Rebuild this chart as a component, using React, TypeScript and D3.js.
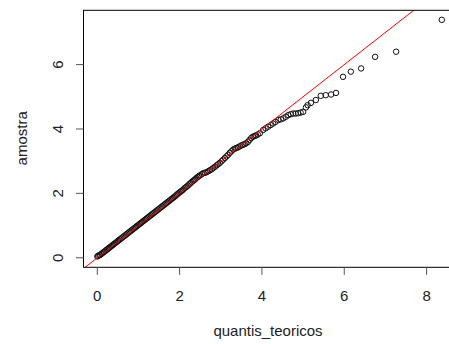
import React from 'react';
import * as d3 from 'd3';

// quantis teoricos (x) e amostra (y)
const teoricos = [
  0.00, 0.02, 0.05, 0.07, 0.10, 0.12, 0.15, 0.17, 0.20, 0.23, 0.25, 0.28, 0.30,
  0.33, 0.36, 0.38, 0.41, 0.44, 0.47, 0.50, 0.52, 0.55, 0.58, 0.61, 0.64, 0.67,
  0.70, 0.73, 0.76, 0.79, 0.82, 0.85, 0.88, 0.91, 0.94, 0.97, 1.00,
  1.03, 1.06, 1.09, 1.12, 1.15, 1.18, 1.21, 1.24, 1.27, 1.30, 1.33, 1.36, 1.39,
  1.42, 1.45, 1.48, 1.51, 1.54, 1.57, 1.60, 1.63, 1.66, 1.69, 1.72, 1.75, 1.78,
  1.81, 1.84, 1.87, 1.90, 1.93, 1.96, 1.99, 2.02, 2.05, 2.08, 2.11, 2.14, 2.17,
  2.20, 2.23, 2.26, 2.29, 2.32, 2.35, 2.38, 2.41, 2.44, 2.47, 2.50,
  2.54, 2.58, 2.62, 2.66, 2.70, 2.74, 2.78, 2.82, 2.86, 2.90, 2.94, 2.98, 3.02,
  3.06, 3.10, 3.14, 3.18, 3.22, 3.26, 3.30, 3.34, 3.38, 3.42, 3.46, 3.50,
  3.54, 3.58, 3.62, 3.66, 3.70, 3.74, 3.78, 3.82, 3.86, 3.90, 3.95,
  4.03, 4.09, 4.15, 4.21, 4.27, 4.33, 4.40, 4.46, 4.52, 4.58, 4.64, 4.70, 4.76,
  4.82, 4.88, 4.94, 5.00, 5.07, 5.11, 5.19, 5.31, 5.43, 5.55, 5.68, 5.80,
  5.97, 6.16, 6.41, 6.75, 7.26, 8.37
];

const amostra = [
  0.04, 0.06, 0.08, 0.09, 0.12, 0.14, 0.17, 0.19, 0.22, 0.25, 0.27, 0.30, 0.32,
  0.35, 0.38, 0.40, 0.43, 0.46, 0.49, 0.52, 0.54, 0.57, 0.60, 0.63, 0.66, 0.69,
  0.72, 0.75, 0.78, 0.81, 0.84, 0.87, 0.90, 0.93, 0.96, 0.99, 1.02,
  1.05, 1.08, 1.11, 1.14, 1.17, 1.20, 1.23, 1.26, 1.29, 1.32, 1.35, 1.38, 1.41,
  1.44, 1.47, 1.50, 1.53, 1.56, 1.59, 1.62, 1.65, 1.68, 1.71, 1.74, 1.77, 1.80,
  1.83, 1.86, 1.89, 1.92, 1.96, 1.99, 2.02, 2.05, 2.08, 2.11, 2.15, 2.18, 2.21,
  2.24, 2.28, 2.31, 2.35, 2.38, 2.41, 2.44, 2.48, 2.51, 2.54, 2.56,
  2.60, 2.63, 2.64, 2.66, 2.69, 2.72, 2.75, 2.79, 2.83, 2.87, 2.91, 2.95, 3.00,
  3.05, 3.10, 3.15, 3.20, 3.26, 3.31, 3.36, 3.39, 3.41, 3.43, 3.46, 3.49,
  3.51, 3.53, 3.56, 3.60, 3.66, 3.72, 3.76, 3.78, 3.80, 3.83, 3.87,
  3.97, 4.02, 4.07, 4.12, 4.17, 4.22, 4.28, 4.30, 4.33, 4.38, 4.43, 4.46, 4.48,
  4.48, 4.49, 4.51, 4.53, 4.67, 4.74, 4.81, 4.90, 5.03, 5.05, 5.07, 5.12,
  5.62, 5.78, 5.88, 6.24, 6.40, 7.39
];

const xTicks = [0, 2, 4, 6, 8];
const yTicks = [0, 2, 4, 6];

const W = 449, H = 344;
const left = 83.5, right = 455.6, top = 10.3, bottom = 267.3;
const font = 'Liberation Sans, Arial, sans-serif';

export default function App() {
  const x = d3.scaleLinear().domain([-0.335, 8.705]).range([left, right]);
  const y = d3.scaleLinear().domain([-0.296, 7.686]).range([bottom, top]);

  const pts = teoricos.map((t, i) => [t, amostra[i]]);
  const lineY = d3.line<number>().x(v => x(v)).y(v => y(v));

  return (
    <svg width={W} height={H} style={{ position: 'absolute', left: 0, top: 0, background: '#fff' }}>
      <defs>
        <clipPath id="plotArea">
          <rect x={left} y={top} width={right - left} height={bottom - top} />
        </clipPath>
      </defs>

      {/* pontos */}
      <g fill="none" stroke="#111" strokeWidth={1}>
        {pts.map((p, i) => (
          <circle key={i} cx={x(p[0])} cy={y(p[1])} r={2.75} />
        ))}
      </g>

      {/* abline(0, 1) */}
      <path d={lineY([-1, 10]) || ''} stroke="#ff0000" strokeWidth={1} fill="none" clipPath="url(#plotArea)" />

      {/* caixa */}
      <rect x={left} y={top} width={right - left} height={bottom - top} fill="none" stroke="#000" strokeWidth={1} />

      {/* eixo x */}
      <g>
        {xTicks.map(t => (
          <g key={t}>
            <line x1={x(t)} x2={x(t)} y1={bottom} y2={bottom + 7.5} stroke="#555" strokeWidth={1} />
            <text x={x(t)} y={300.5} textAnchor="middle" fontFamily={font} fontSize={15} fill="#222">{t}</text>
          </g>
        ))}
        <text x={268} y={336} textAnchor="middle" fontFamily={font} fontSize={15} fill="#222">quantis_teoricos</text>
      </g>

      {/* eixo y */}
      <g>
        {yTicks.map(t => (
          <g key={t}>
            <line x1={left - 7.5} x2={left} y1={y(t)} y2={y(t)} stroke="#555" strokeWidth={1} />
            <text transform={`translate(62.5,${y(t)}) rotate(-90)`} textAnchor="middle" fontFamily={font} fontSize={15} fill="#222">{t}</text>
          </g>
        ))}
        <text transform={`translate(26.7,138.3) rotate(-90)`} textAnchor="middle" fontFamily={font} fontSize={15} fill="#222">amostra</text>
      </g>
    </svg>
  );
}
